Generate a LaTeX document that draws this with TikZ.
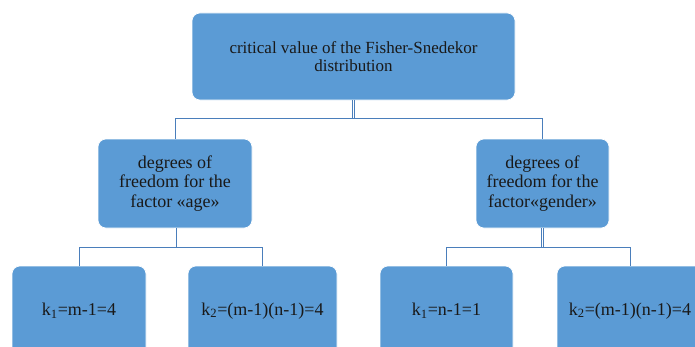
\documentclass[tikz,border=0pt]{standalone}
\usepackage{fontspec}
\setmainfont{Liberation Serif}
\definecolor{boxfill}{HTML}{5B9BD5}
\definecolor{conn}{HTML}{4A7EBB}
\begin{document}
\begin{tikzpicture}[x=1pt,y=1pt,
  box/.style={draw=white, line width=0.6pt, fill=boxfill, rounded corners=8pt, align=center, inner sep=2pt, text=black!90},
  conn/.style={draw=conn, line width=0.9pt},
  dbl/.style={draw=conn, line width=0.7pt, double=white, double distance=1.6pt}]
\path[use as bounding box, clip] (0,0) rectangle (695,346);
\fill[white] (0,0) rectangle (695,346);
\node[box, minimum width=323pt, minimum height=87pt, font=\fontsize{17}{18}\selectfont] (top) at (353.5,289.5) {critical value of the Fisher-Snedekor\\distribution};
\node[box, minimum width=154pt, minimum height=89pt, font=\fontsize{18}{19.5}\selectfont] (m1) at (175,162.5) {degrees of\\freedom for the\\factor «age»};
\node[box, minimum width=133pt, minimum height=89pt, font=\fontsize{18}{19.5}\selectfont] (m2) at (542.5,162.5) {degrees of\\freedom for the\\factor«gender»};
\node[box, minimum width=134pt, minimum height=90pt, font=\fontsize{18}{19.5}\selectfont] (b1) at (79,35) {k\textsubscript{1}=m-1=4};
\node[box, minimum width=149pt, minimum height=90pt, font=\fontsize{18}{19.5}\selectfont] (b2) at (262.5,35) {k\textsubscript{2}=(m-1)(n-1)=4};
\node[box, minimum width=133pt, minimum height=90pt, font=\fontsize{18}{19.5}\selectfont] (b3) at (446.5,35) {k\textsubscript{1}=n-1=1};
\node[box, minimum width=146pt, minimum height=90pt, font=\fontsize{18}{19.5}\selectfont] (b4) at (630,35) {k\textsubscript{2}=(m-1)(n-1)=4};
\coordinate (j0) at (353.5,228);
\coordinate (j1) at (175,99);
\coordinate (j2) at (542.5,99);
\draw[dbl] (top.south) -- (j0);
\draw[conn] (m1.north) -- (m1.north |- j0) -- (m2.north |- j0) -- (m2.north);
\draw[dbl] (m1.south) -- (j1);
\draw[conn] (b1.north) -- (b1.north |- j1) -- (b2.north |- j1) -- (b2.north);
\draw[dbl] (m2.south) -- (j2);
\draw[conn] (b3.north) -- (b3.north |- j2) -- (b4.north |- j2) -- (b4.north);
\end{tikzpicture}
\end{document}
